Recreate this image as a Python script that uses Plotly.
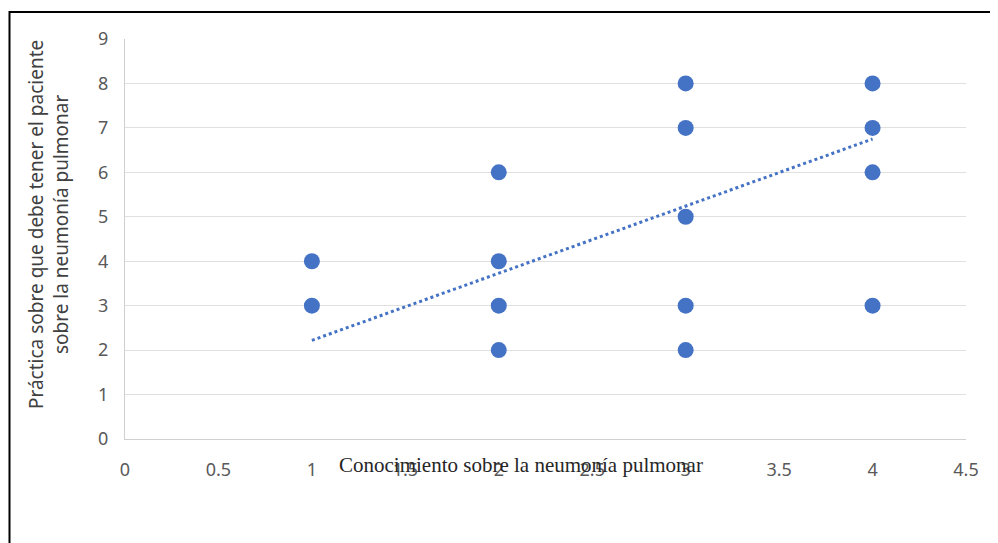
import plotly.graph_objects as go

# Data
knowledge = [1, 1, 2, 2, 2, 2, 3, 3, 3, 3, 3, 4, 4, 4, 4]
practice = [3, 4, 2, 3, 4, 6, 2, 3, 5, 7, 8, 3, 6, 7, 8]
trend_x = [1, 4]
trend_y = [2.22, 6.75]

x_title = "Conocimiento sobre la neumonía pulmonar"
y_title = "Práctica sobre que debe tener el paciente<br>sobre la neumonía pulmonar"

OFF = 8  # default page body margin
W, H = 998 - OFF, 543 - OFF
# target plot area in page pixels: x 125..966, y 39..439
L, T = 125 - OFF, 39 - OFF
R = W - (966 - OFF)
B = H - (439 - OFF)
pw, ph = W - L - R, H - T - B

def px_to_paper_x(px):
    return (px - OFF - L) / pw

def py_to_paper_y(py):
    return (T + ph - (py - OFF)) / ph

blue = "#4472C4"

fig = go.Figure()
fig.add_trace(go.Scatter(
    x=knowledge, y=practice, mode="markers",
    marker=dict(size=16, color=blue),
    showlegend=False, hoverinfo="x+y"))
fig.add_trace(go.Scatter(
    x=trend_x, y=trend_y, mode="lines",
    line=dict(color=blue, width=3, dash="dot"),
    showlegend=False, hoverinfo="skip"))

tickfont = dict(family="Noto Sans, Open Sans, sans-serif", size=18, color="#595959")

fig.update_layout(
    width=W, height=H,
    margin=dict(l=L, r=R, t=T, b=B, pad=0),
    paper_bgcolor="white", plot_bgcolor="white",
    xaxis=dict(range=[0, 4.5], dtick=0.5, tick0=0, showgrid=False,
               showline=True, linecolor="#d0d0d0", linewidth=1,
               zeroline=False, tickfont=tickfont, ticks="",
               ticklabelstandoff=14, fixedrange=True),
    yaxis=dict(range=[0, 9], dtick=1, tick0=0, showgrid=True,
               gridcolor="#e0e0e0", gridwidth=1,
               showline=True, linecolor="#d0d0d0", linewidth=1,
               zeroline=False, tickfont=tickfont, ticks="",
               ticklabelstandoff=12, fixedrange=True),
    annotations=[
        dict(text=x_title, xref="paper", yref="paper",
             x=px_to_paper_x(521), y=py_to_paper_y(465),
             xanchor="center", yanchor="middle", showarrow=False,
             font=dict(family="Liberation Serif, Times New Roman, serif",
                       size=21, color="#262626")),
        dict(text=y_title, xref="paper", yref="paper",
             x=px_to_paper_x(48), y=py_to_paper_y(225),
             xanchor="center", yanchor="middle", showarrow=False,
             textangle=-90,
             font=dict(family="Noto Sans, Open Sans, sans-serif",
                       size=19, color="#404040")),
    ],
    shapes=[
        dict(type="line", xref="paper", yref="paper",
             x0=px_to_paper_x(9.5), x1=px_to_paper_x(9.5),
             y0=py_to_paper_y(11), y1=py_to_paper_y(560),
             line=dict(color="black", width=2)),
        dict(type="line", xref="paper", yref="paper",
             x0=px_to_paper_x(9), x1=px_to_paper_x(1010),
             y0=py_to_paper_y(12), y1=py_to_paper_y(12),
             line=dict(color="black", width=2)),
    ],
)

fig.write_html("out.html")
